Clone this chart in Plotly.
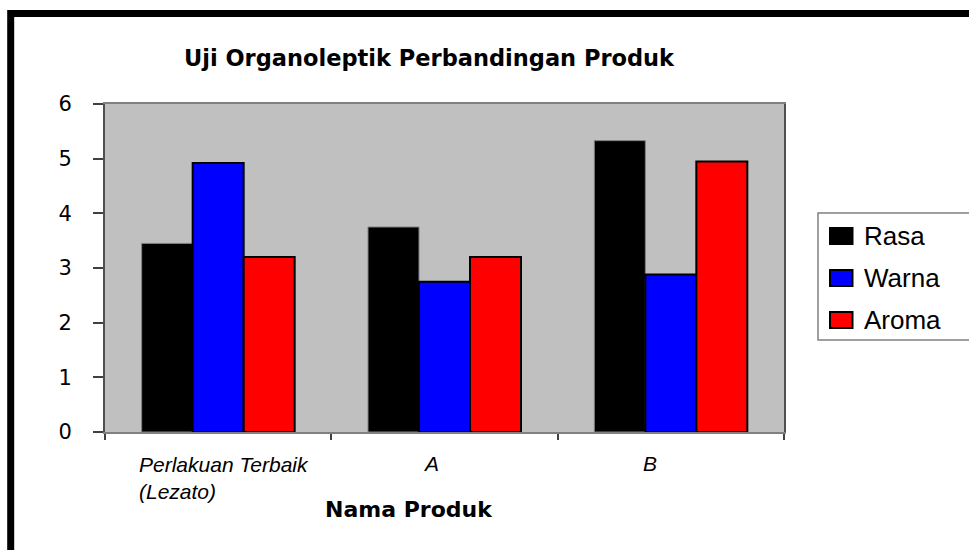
import plotly.graph_objects as go

# ---- data ----
products = ["Perlakuan Terbaik (Lezato)", "A", "B"]
rasa = [3.45, 3.75, 5.33]
warna = [4.92, 2.75, 2.88]
aroma = [3.20, 3.20, 4.95]

series_names = ["Rasa", "Warna", "Aroma"]
series_colors = ["#000000", "#0000FF", "#FF0000"]
series_edges = ["#808080", "#000000", "#000000"]
series_edge_w = [1, 2, 2]

W, H = 969, 550
L, R, T, B = 105, 185, 104, 118
PW, PH = W - L - R, H - T - B

ARIAL = "Liberation Sans, Arial, sans-serif"
WIDE = "DejaVu Sans, sans-serif"


def px_x(px):
    return (px - L) / PW


def px_y(py):
    return (H - B - py) / PH


fig = go.Figure()

for name, vals, col, edge, ew in zip(series_names, [rasa, warna, aroma],
                                     series_colors, series_edges, series_edge_w):
    fig.add_trace(go.Bar(
        x=products, y=vals, name=name,
        marker=dict(color=col, line=dict(color=edge, width=ew)),
        showlegend=False,
    ))

fig.update_layout(
    width=W, height=H,
    margin=dict(l=L, r=R, t=T, b=B, pad=0),
    paper_bgcolor="white",
    plot_bgcolor="#C0C0C0",
    barmode="group", bargap=0.324, bargroupgap=0,
    font=dict(family=ARIAL, color="black"),
    title=dict(
        text="<b>Uji Organoleptik Perbandingan Produk</b>",
        font=dict(family=WIDE, size=22.5, color="black"),
        xref="paper", x=px_x(429), xanchor="center",
        yref="container", y=1 - 58 / H, yanchor="middle",
    ),
)

fig.update_xaxes(
    type="category", showticklabels=False,
    tickson="boundaries", ticks="outside", ticklen=6, tickwidth=1.5,
    tickcolor="#404040",
    showline=True, linecolor="#808080", linewidth=2, mirror=True,
    showgrid=False, zeroline=False,
)
fig.update_yaxes(
    range=[0, 6], dtick=1, tick0=0,
    ticks="outside", ticklen=10, tickwidth=1.5, tickcolor="#404040",
    tickfont=dict(family=WIDE, size=21, color="black"),
    ticklabelstandoff=17,
    showline=True, linecolor="#505050", linewidth=2, mirror=True,
    showgrid=False, zeroline=False,
)

# category labels (italic, as in the original)
label_font = dict(family=ARIAL, size=21, color="black")
fig.add_annotation(text="<i>Perlakuan Terbaik<br>(Lezato)</i>", x=products[0],
                   xref="x", xshift=-81, xanchor="left", align="left",
                   y=px_y(463 - 12), yref="paper", yanchor="top",
                   showarrow=False, font=label_font)
fig.add_annotation(text="<i>A</i>", x=products[1], xref="x", xshift=-14,
                   y=px_y(463), yref="paper", yanchor="middle",
                   showarrow=False, font=label_font)
fig.add_annotation(text="<i>B</i>", x=products[2], xref="x", xshift=-21,
                   y=px_y(463), yref="paper", yanchor="middle",
                   showarrow=False, font=label_font)

# axis title
fig.add_annotation(text="<b>Nama Produk</b>", xref="paper", yref="paper",
                   x=px_x(409), y=px_y(509), yanchor="middle",
                   showarrow=False, font=dict(family=WIDE, size=22, color="black"))

# legend box (drawn by hand so the swatches match the original size)
fig.add_shape(type="rect", xref="paper", yref="paper",
              x0=px_x(818), x1=px_x(985), y0=px_y(340), y1=px_y(213),
              line=dict(color="#808080", width=1.5), fillcolor="white", layer="above")
legend_rows = [236, 278, 320]
for name, col, yc in zip(series_names, series_colors, legend_rows):
    fig.add_shape(type="rect", xref="paper", yref="paper",
                  x0=px_x(830), x1=px_x(852.5), y0=px_y(yc + 8), y1=px_y(yc - 8),
                  line=dict(color="black", width=2), fillcolor=col, layer="above")
    fig.add_annotation(text=name, xref="paper", yref="paper",
                       x=px_x(862), xanchor="left", y=px_y(yc), yanchor="middle",
                       showarrow=False, font=dict(family=ARIAL, size=26, color="black"))

# thick black frame of the chart (only top and left edges are in view)
fig.add_shape(type="rect", xref="paper", yref="paper",
              x0=px_x(10.7), x1=px_x(1010), y0=px_y(620), y1=px_y(13.4),
              line=dict(color="black", width=7), fillcolor="rgba(0,0,0,0)", layer="above")

fig.write_html("out.html", config={"displayModeBar": False},
               post_script="document.body.style.margin='0';")
